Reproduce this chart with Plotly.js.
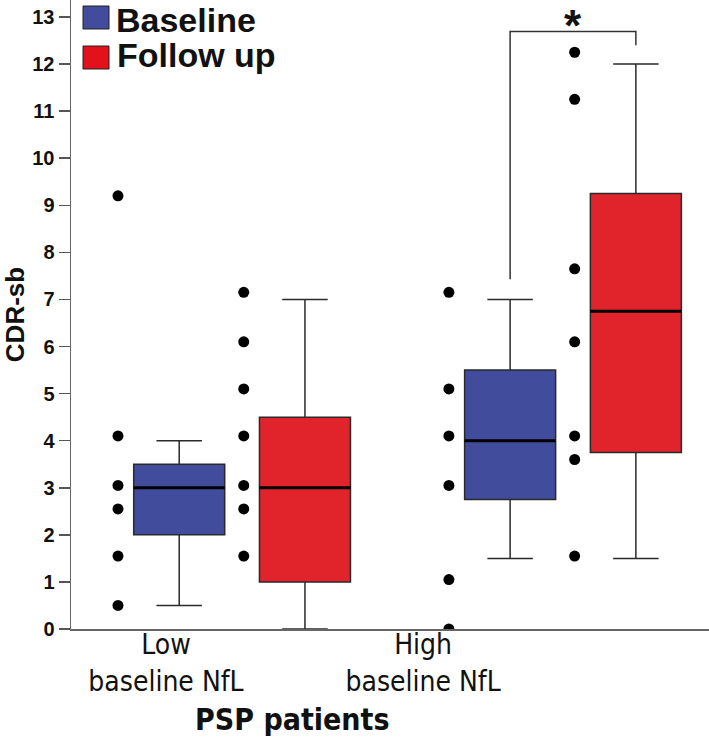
<!DOCTYPE html>
<html>
<head>
<meta charset="utf-8">
<script src="https://cdn.plot.ly/plotly-3.0.1.min.js"></script>
<style>html,body{margin:0;padding:0;background:#fff;}#chart{width:709px;height:747px;}</style>
</head>
<body>
<div id="chart"></div>
<script>
// ---- data ----
const categories = ['Low<br>baseline NfL', 'High<br>baseline NfL'];
const seriesNames = ['Baseline', 'Follow up'];
const yTickValues = [0,1,2,3,4,5,6,7,8,9,10,11,12,13];

const baselineQ1 = [2, 2.75];
const baselineMedian = [3, 4];
const baselineQ3 = [3.5, 5.5];
const baselineLowerWhisker = [0.5, 1.5];
const baselineUpperWhisker = [4, 7];

const followQ1 = [1, 3.75];
const followMedian = [3, 6.75];
const followQ3 = [4.5, 9.25];
const followLowerWhisker = [0, 1.5];
const followUpperWhisker = [7, 12];

const baselineDotsLow = [9.2, 4.1, 3.05, 2.55, 1.55, 0.5];
const baselineDotsHigh = [7.15, 5.1, 4.1, 3.05, 1.05, 0];
const followDotsLow = [7.15, 6.1, 5.1, 4.1, 3.05, 2.55, 1.55];
const followDotsHigh = [12.25, 11.25, 7.65, 6.1, 4.1, 3.6, 1.55];

// significance bracket (High baseline vs High follow up)
const bracketY = [7.43, 12.69, 12.4];

// ---- layout helpers ----
const catPos = categories.map((c, i) => i);
const boxOffset = 0.19;
const boxWidth = 0.275;
const dotShift = -0.185;
const blue = '#414C9C';
const red = '#E1232C';
const condensed = 'DejaVu Sans Condensed, Liberation Sans Narrow, Liberation Sans, sans-serif';
const arial = 'Liberation Sans, Arial, sans-serif';

const baseX = catPos.map(p => p - boxOffset);
const follX = catPos.map(p => p + boxOffset);

function medianLine(xs, meds) {
  const x = [], y = [];
  xs.forEach((c, i) => { x.push(c - boxWidth / 2, c + boxWidth / 2, null); y.push(meds[i], meds[i], null); });
  return {type: 'scatter', mode: 'lines', x: x, y: y, line: {color: '#000', width: 3}, hoverinfo: 'skip', showlegend: false};
}
function dots(xc, vals) {
  return {type: 'scatter', mode: 'markers', x: vals.map(() => xc + dotShift), y: vals,
    marker: {color: '#000', size: 11}, hoverinfo: 'skip', showlegend: false, cliponaxis: true};
}
function boxTrace(xs, q1, med, q3, lo, hi, color, name) {
  return {type: 'box', name: name, x: xs, q1: q1, median: med, q3: q3, lowerfence: lo, upperfence: hi,
    width: boxWidth, whiskerwidth: 0.5, fillcolor: color, line: {color: '#2a2a2a', width: 1.5},
    boxpoints: false, hoverinfo: 'skip', showlegend: false};
}

const traces = [
  boxTrace(baseX, baselineQ1, baselineMedian, baselineQ3, baselineLowerWhisker, baselineUpperWhisker, blue, seriesNames[0]),
  boxTrace(follX, followQ1, followMedian, followQ3, followLowerWhisker, followUpperWhisker, red, seriesNames[1]),
  medianLine(baseX, baselineMedian),
  medianLine(follX, followMedian),
  dots(baseX[0], baselineDotsLow),
  dots(baseX[1], baselineDotsHigh),
  dots(follX[0], followDotsLow),
  dots(follX[1], followDotsHigh)
];

const H = 629; // plot height px
const W = 638; // plot width px
function py(pix) { return (H - pix) / H; }
function px(pix) { return (pix - 71) / W; }

const layout = {
  width: 709, height: 747,
  margin: {l: 71, r: 0, t: 0, b: 747 - H},
  paper_bgcolor: '#fff', plot_bgcolor: '#fff',
  showlegend: false,
  hovermode: false,
  xaxis: {
    range: [-0.517, 1.411],
    showgrid: false, zeroline: false,
    showline: true, linecolor: '#666', linewidth: 1.5,
    ticks: '',
    tickvals: [-0.23, 0.547],
    ticktext: categories,
    ticklabelstandoff: -10,
    tickfont: {family: condensed, size: 28, color: '#111'},
    fixedrange: true
  },
  yaxis: {
    range: [0, 13.36],
    tickvals: yTickValues,
    showgrid: false, zeroline: false,
    showline: true, linecolor: '#666', linewidth: 1.5,
    ticks: 'outside', ticklen: 11, tickwidth: 1.5, tickcolor: '#555',
    tickfont: {family: arial, size: 20, color: '#111', weight: 'bold'},
    title: {text: 'CDR-sb', font: {family: arial, size: 26, color: '#111', weight: 'bold'}, standoff: 7},
    fixedrange: true
  },
  shapes: [
    {type: 'path', xref: 'x', yref: 'y',
     path: 'M ' + baseX[1] + ' ' + bracketY[0] + ' L ' + baseX[1] + ' ' + bracketY[1] + ' L ' + follX[1] + ' ' + bracketY[1] + ' L ' + follX[1] + ' ' + bracketY[2],
     line: {color: '#333', width: 1.5}},
    {type: 'rect', xref: 'paper', yref: 'paper', x0: px(83), x1: px(109), y0: py(29), y1: py(6), fillcolor: blue, line: {color: '#222', width: 1}},
    {type: 'rect', xref: 'paper', yref: 'paper', x0: px(83), x1: px(109), y0: py(69), y1: py(46), fillcolor: '#E3111B', line: {color: '#222', width: 1}}
  ],
  annotations: [
    {xref: 'paper', yref: 'paper', x: px(115), y: 1, xanchor: 'left', yanchor: 'top', borderpad: 0, showarrow: false,
     text: seriesNames[0], font: {family: arial, size: 34, color: '#111', weight: 'bold'}},
    {xref: 'paper', yref: 'paper', x: px(115), y: py(55), xanchor: 'left', yanchor: 'middle', showarrow: false,
     text: seriesNames[1], font: {family: arial, size: 34, color: '#111', weight: 'bold'}},
    {xref: 'x', yref: 'paper', x: (baseX[1] + follX[1]) / 2, y: 1, xanchor: 'center', yanchor: 'top', borderpad: 0, showarrow: false,
     text: '*', font: {family: arial, size: 44, color: '#111', weight: 'bold'}},
    {xref: 'paper', yref: 'paper', x: px(292), y: py(719), xanchor: 'center', yanchor: 'middle', showarrow: false,
     text: 'PSP patients', font: {family: condensed, size: 30, color: '#111', weight: 'bold'}}
  ]
};

Plotly.newPlot('chart', traces, layout, {displayModeBar: false, staticPlot: true});
</script>
</body>
</html>
